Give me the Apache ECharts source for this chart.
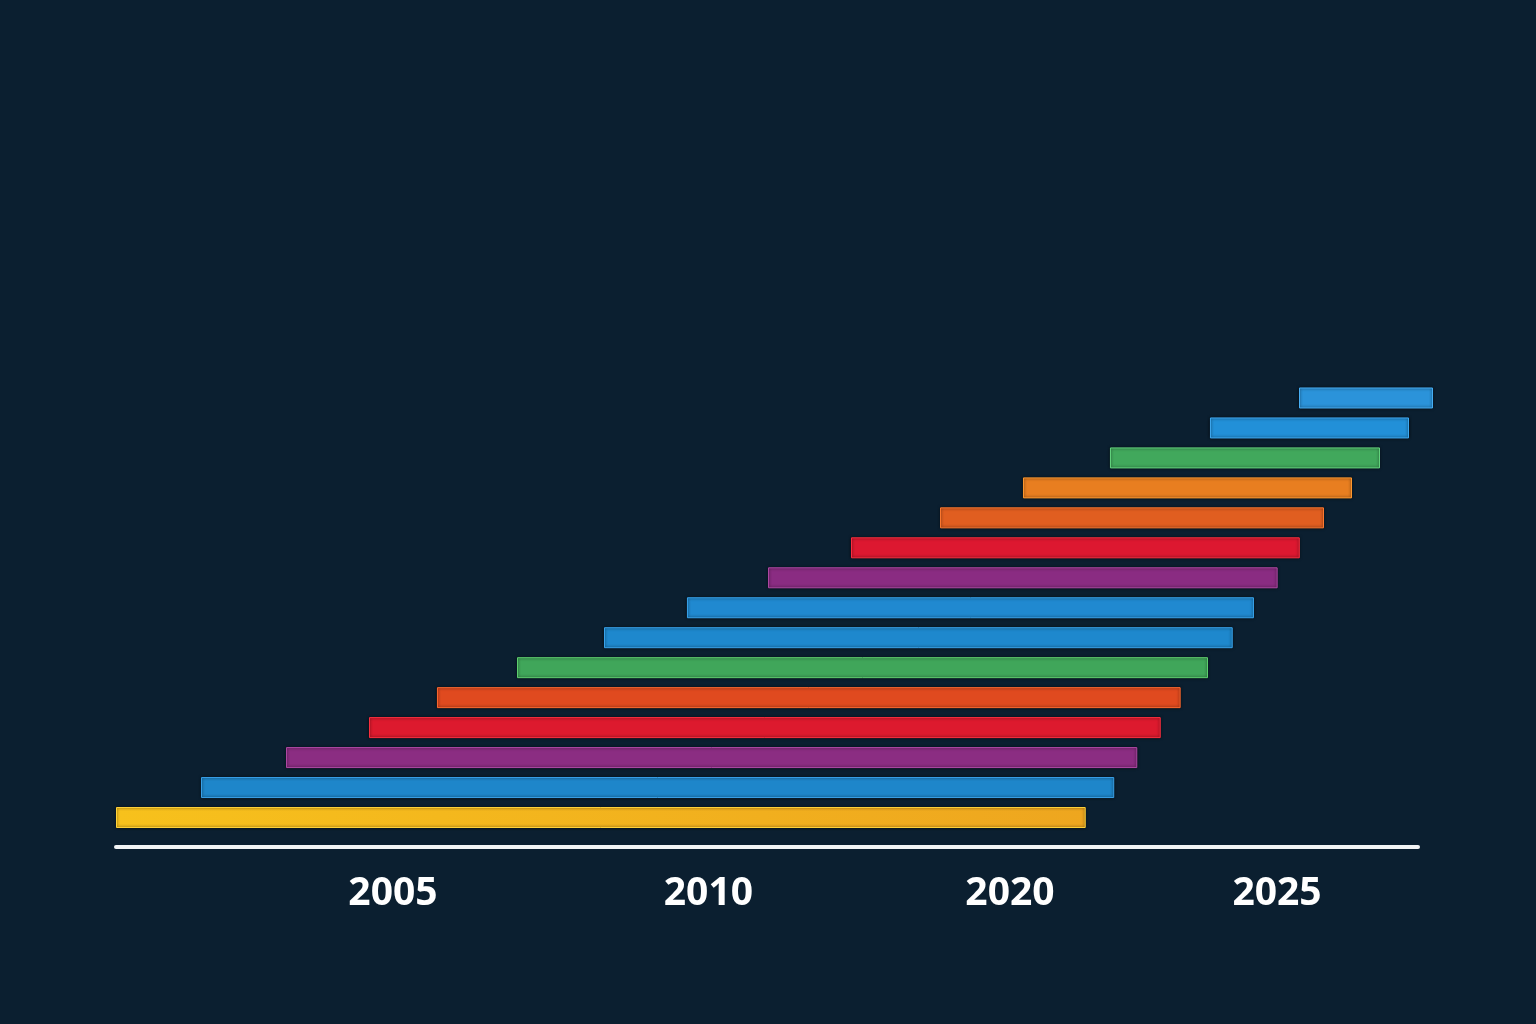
<!DOCTYPE html>
<html>
<head>
<meta charset="utf-8">
<style>
  html, body { margin: 0; padding: 0; background: #0b1f30; }
  #chart { width: 1536px; height: 1024px; }
</style>
<script src="https://cdn.jsdelivr.net/npm/echarts@6/dist/echarts.min.js"></script>
</head>
<body>
<div id="chart"></div>
<script>
// Rows, bottom to top
const rows = ['R1','R2','R3','R4','R5','R6','R7','R8','R9','R10','R11','R12','R13','R14','R15'];
// Timeline position (0 = axis start, 100 = axis end)
const starts = [0, 6.53, 13.06, 19.43, 24.65, 30.80, 37.48, 43.85, 50.08, 56.45, 63.29, 69.66, 76.34, 84.02, 90.86];
const ends   = [74.48, 76.67, 78.44, 80.24, 81.77, 83.87, 85.77, 87.40, 89.22, 90.92, 92.78, 94.93, 97.08, 99.31, 101.15];
const barColors = ['#f2b01e','#1e86ca','#8b2d82','#dd1a2e','#e04a1f','#40a65a','#1e88cd','#2089d0','#8a2c82','#dd1830','#e05e20','#e87e20','#41a85c','#2290d8','#2b93da'];
const edgeColors = ['#ffd23a','#3aa2ea','#b04aa6','#ff3040','#ff6a30','#60d070','#3aa4ec','#3aa6ee','#b04aa6','#ff3040','#ff7a30','#ff9a30','#66d880','#40acf4','#48b0f6'];
// Tick labels and their positions on the timeline
const tickLabels = ['2005', '2010', '2020', '2025'];
const tickPositions = [21.27, 45.5, 68.66, 89.17];

const chart = echarts.init(document.getElementById('chart'));

const spanData = starts.map((s, i) => {
  const item = {
    value: ends[i] - s,
    itemStyle: {
      color: barColors[i],
      borderColor: edgeColors[i],
      borderWidth: 1,
      shadowColor: 'rgba(0,0,0,0.7)',
      shadowBlur: 3
    }
  };
  if (i === 0) {
    item.itemStyle.color = new echarts.graphic.LinearGradient(0, 0, 1, 0, [
      { offset: 0, color: '#f7c11c' },
      { offset: 1, color: '#eea61f' }
    ]);
  }
  return item;
});

chart.setOption({
  backgroundColor: '#0b1f30',
  animation: false,
  grid: { left: 116, right: 118, top: 383, bottom: 191.5 },
  xAxis: {
    type: 'value',
    min: 0,
    max: 100,
    offset: 14,
    splitLine: { show: false },
    axisLine: { show: true, lineStyle: { color: '#f2f4f5', width: 4 } },
    axisTick: { show: false },
    axisLabel: {
      customValues: tickPositions,
      formatter: (v) => {
        const idx = tickPositions.findIndex(p => Math.abs(p - v) < 1e-6);
        return idx >= 0 ? tickLabels[idx] : '';
      },
      color: '#ffffff',
      fontFamily: 'Open Sans',
      fontWeight: 'bold',
      fontSize: 39,
      margin: 28
    }
  },
  yAxis: {
    type: 'category',
    data: rows,
    show: false
  },
  series: [
    {
      type: 'bar',
      stack: 'span',
      data: starts,
      barWidth: 21,
      itemStyle: { color: 'transparent' },
      silent: true,
      clip: false
    },
    {
      type: 'bar',
      stack: 'span',
      data: spanData,
      barWidth: 21,
      clip: false
    }
  ]
});
</script>
</body>
</html>
